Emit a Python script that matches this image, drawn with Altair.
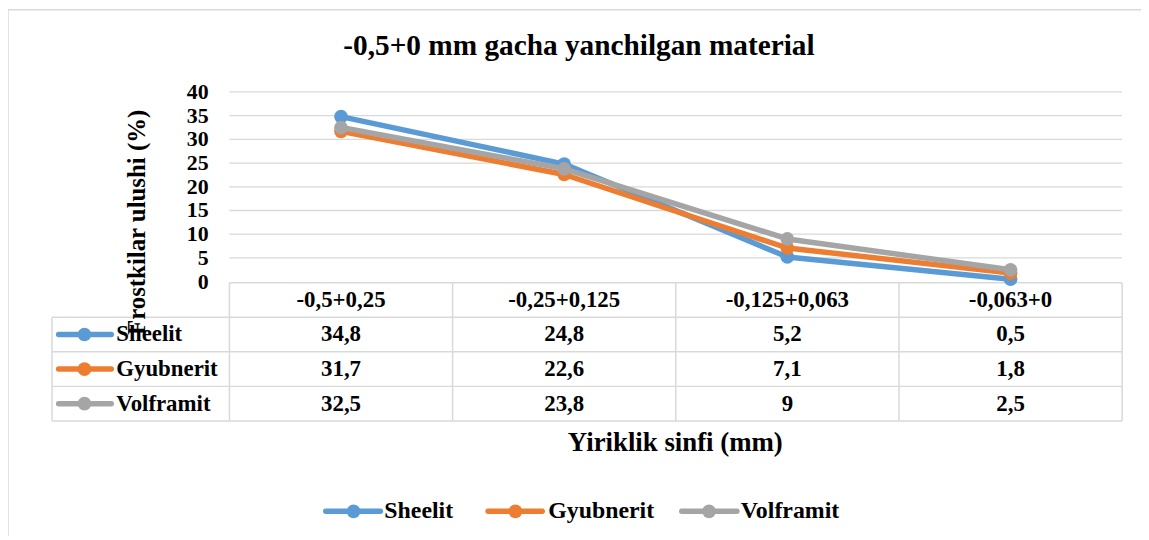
import altair as alt
import pandas as pd

# ---------------- data ----------------
categories = ["-0,5+0,25", "-0,25+0,125", "-0,125+0,063", "-0,063+0"]
series_names = ["Sheelit", "Gyubnerit", "Volframit"]
sheelit = [34.8, 24.8, 5.2, 0.5]
gyubnerit = [31.7, 22.6, 7.1, 1.8]
volframit = [32.5, 23.8, 9.0, 2.5]
y_ticks = [0, 5, 10, 15, 20, 25, 30, 35, 40]
series_colors = ["#5B9BD5", "#ED7D31", "#A5A5A5"]

title_text = "-0,5+0 mm gacha yanchilgan material"
y_title = "Frostkilar ulushi (%)"
x_title = "Yiriklik sinfi (mm)"

# ---------------- layout (chart pixel coords) ----------------
FONT = "'Liberation Serif', 'Times New Roman', serif"
GRID = "#D9D9D9"
W, H = 1141, 530
LW = 5.5
MS = 190
xs = alt.Scale(domain=[-0.5, 3.5], range=[223, 1122])
ys = alt.Scale(domain=[0, 40], range=[273.7, 82.7])
ts = alt.Scale(domain=[0, 4], range=[274.7, 414])
left_edge = -0.5 - (223 - 44.3) / 224.75

values = [sheelit, gyubnerit, volframit]


def fmt(v):
    return f"{v:g}".replace(".", ",")


layers = []

# frame
layers.append(alt.Chart(pd.DataFrame({"a": [0]})).mark_rule(color=GRID, strokeWidth=1.5).encode(
    x=alt.value(0), y=alt.value(0), y2=alt.value(H)))
layers.append(alt.Chart(pd.DataFrame({"a": [0]})).mark_rule(color=GRID, strokeWidth=1.5).encode(
    x=alt.value(0), x2=alt.value(W), y=alt.value(0)))

# gridlines
grid_df = pd.DataFrame({"v": y_ticks[1:], "x": -0.5, "x2": 3.5})
layers.append(alt.Chart(grid_df).mark_rule(color=GRID, strokeWidth=1.3).encode(
    x=alt.X("x:Q", scale=xs, axis=None), x2="x2:Q",
    y=alt.Y("v:Q", scale=ys, axis=None)))

# y tick labels
tick_df = pd.DataFrame({"v": y_ticks, "lbl": [str(t) for t in y_ticks]})
layers.append(alt.Chart(tick_df).mark_text(font=FONT, fontSize=22, fontWeight="bold", align="right",
                                           baseline="middle", color="black").encode(
    x=alt.value(202), y=alt.Y("v:Q", scale=ys, axis=None), text="lbl:N"))

# table borders
rules = []
for b in [-0.5, 0.5, 1.5, 2.5, 3.5]:
    rules.append({"x": b, "x2": b, "y": 0, "y2": 4})
rules.append({"x": left_edge, "x2": left_edge, "y": 1, "y2": 4})
rules.append({"x": -0.5, "x2": 3.5, "y": 0, "y2": 0})
for r in [1, 2, 3, 4]:
    rules.append({"x": left_edge, "x2": 3.5, "y": r, "y2": r})
layers.append(alt.Chart(pd.DataFrame(rules)).mark_rule(color=GRID, strokeWidth=1.5).encode(
    x=alt.X("x:Q", scale=xs, axis=None), x2="x2:Q",
    y=alt.Y("y:Q", scale=ts, axis=None), y2="y2:Q"))

# table texts
cells = []
for i, c in enumerate(categories):
    cells.append({"idx": i, "row": 0.5, "txt": c})
for r, vals in enumerate(values):
    for i, v in enumerate(vals):
        cells.append({"idx": i, "row": r + 1.5, "txt": fmt(v)})
layers.append(alt.Chart(pd.DataFrame(cells)).mark_text(font=FONT, fontSize=23, fontWeight="bold",
                                                       baseline="middle", color="black").encode(
    x=alt.X("idx:Q", scale=xs, axis=None), y=alt.Y("row:Q", scale=ts, axis=None), text="txt:N"))

color_scale = alt.Scale(domain=series_names, range=series_colors)

# table legend column
leg_df = pd.DataFrame({"series": series_names, "row": [1.5, 2.5, 3.5]})
layers.append(alt.Chart(leg_df).mark_rule(strokeWidth=LW, strokeCap="round").encode(
    x=alt.value(51), x2=alt.value(104), y=alt.Y("row:Q", scale=ts, axis=None),
    color=alt.Color("series:N", scale=color_scale, legend=None)))
layers.append(alt.Chart(leg_df).mark_circle(size=MS, opacity=1).encode(
    x=alt.value(77), y=alt.Y("row:Q", scale=ts, axis=None),
    color=alt.Color("series:N", scale=color_scale, legend=None)))
layers.append(alt.Chart(leg_df).mark_text(font=FONT, fontSize=23, fontWeight="bold", align="left",
                                          baseline="middle", color="black").encode(
    x=alt.value(109), y=alt.Y("row:Q", scale=ts, axis=None), text="series:N"))

# data lines + markers
for name, vals in zip(series_names, values):
    df = pd.DataFrame({"idx": list(range(len(categories))), "value": vals, "series": name})
    layers.append(alt.Chart(df).mark_line(strokeWidth=LW, strokeCap="round", strokeJoin="round").encode(
        x=alt.X("idx:Q", scale=xs, axis=None), y=alt.Y("value:Q", scale=ys, axis=None),
        color=alt.Color("series:N", scale=color_scale, legend=None)))
    layers.append(alt.Chart(df).mark_circle(size=MS, opacity=1).encode(
        x=alt.X("idx:Q", scale=xs, axis=None), y=alt.Y("value:Q", scale=ys, axis=None),
        color=alt.Color("series:N", scale=color_scale, legend=None)))

# bottom legend
bl = pd.DataFrame({
    "series": series_names,
    "x0": [320, 483.5, 678.5],
    "x1": [375, 538, 734],
    "cx": [348, 511, 706],
    "tx": [379, 544, 738],
})
LY = 505
layers.append(alt.Chart(bl).mark_rule(strokeWidth=LW, strokeCap="round").encode(
    x=alt.X("x0:Q", scale=None), x2="x1:Q", y=alt.value(LY),
    color=alt.Color("series:N", scale=color_scale, legend=None)))
layers.append(alt.Chart(bl).mark_circle(size=MS, opacity=1).encode(
    x=alt.X("cx:Q", scale=None), y=alt.value(LY),
    color=alt.Color("series:N", scale=color_scale, legend=None)))
layers.append(alt.Chart(bl).mark_text(font=FONT, fontSize=24, fontWeight="bold", align="left",
                                      baseline="middle", color="black").encode(
    x=alt.X("tx:Q", scale=None), y=alt.value(LY), text="series:N"))

# titles
one = pd.DataFrame({"a": [0]})
layers.append(alt.Chart(one).mark_text(text=title_text, font=FONT, fontSize=29.5, fontWeight="bold",
                                       baseline="middle", color="black").encode(
    x=alt.value(575), y=alt.value(36)))
layers.append(alt.Chart(one).mark_text(text=x_title, font=FONT, fontSize=27, fontWeight="bold",
                                       baseline="middle", color="black").encode(
    x=alt.value(672), y=alt.value(436)))
layers.append(alt.Chart(one).mark_text(text=y_title, font=FONT, fontSize=25, fontWeight="bold",
                                       baseline="middle", angle=270, color="black").encode(
    x=alt.value(130), y=alt.value(214)))

chart = alt.layer(*layers).resolve_scale(x="independent", y="independent").properties(
    width=W, height=H, autosize=alt.AutoSizeParams(type="none"), padding=0,
    background="white",
).configure_view(stroke=None)

chart.save("out.html", embed_options={"renderer": "svg", "actions": False})
